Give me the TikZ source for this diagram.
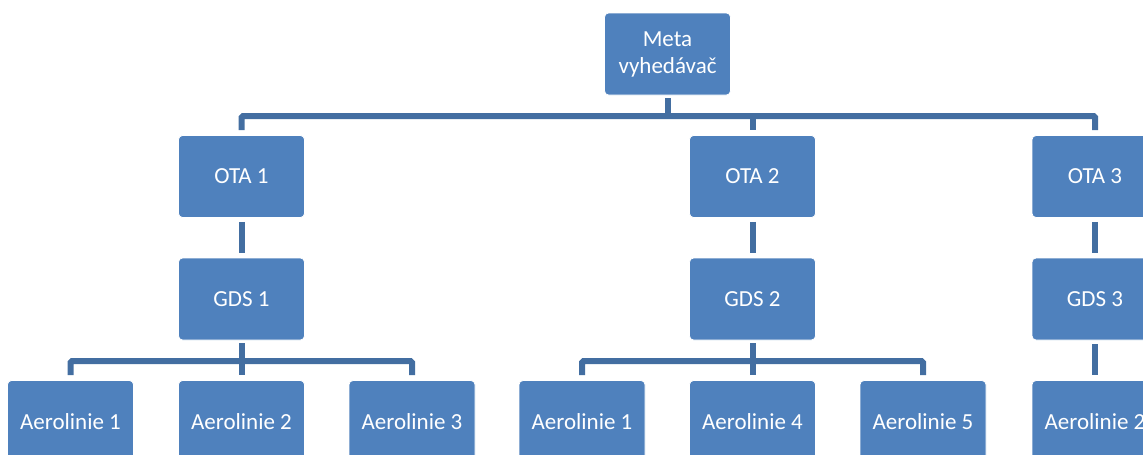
\documentclass[tikz,border=0pt]{standalone}
\usepackage{fontspec}
\setmainfont{Carlito}
\definecolor{boxblue}{HTML}{4F81BD}
\definecolor{lineblue}{HTML}{436EA1}
\begin{document}
\begin{tikzpicture}[x=1pt,y=-1pt,
  box/.style={draw=white, line width=0.8pt, fill=boxblue, rounded corners=4pt,
    minimum width=126pt, minimum height=82pt, inner sep=0pt, text=white,
    font=\fontsize{23}{27}\selectfont, align=center},
  conn/.style={draw=lineblue, line width=6pt, rounded corners=1.5pt}]
\useasboundingbox (0,0) rectangle (1143,455);
\node[box] (meta) at (667.5,54) {Meta\\vyhedávač};
\node[box] (ota1) at (241.5,176.5) {OTA 1};
\node[box] (ota2) at (752.5,176.5) {OTA 2};
\node[box] (ota3) at (1095,176.5) {OTA 3};
\node[box] (gds1) at (241.5,299) {GDS 1};
\node[box] (gds2) at (752.5,299) {GDS 2};
\node[box] (gds3) at (1095,299) {GDS 3};
\node[box] (a11) at (70.5,421.5) {Aerolinie 1};
\node[box] (a12) at (241.5,421.5) {Aerolinie 2};
\node[box] (a13) at (412,421.5) {Aerolinie 3};
\node[box] (a21) at (582,421.5) {Aerolinie 1};
\node[box] (a24) at (752.5,421.5) {Aerolinie 4};
\node[box] (a25) at (923,421.5) {Aerolinie 5};
\node[box] (a32) at (1095,421.5) {Aerolinie 2};
\coordinate (bus1) at (0,116);
\coordinate (bus2) at (0,361);
% top level
\draw[conn] ([yshift=-3pt]meta.south) -- (meta.south |- bus1);
\draw[conn] ([yshift=5pt]ota1.north) -- (ota1.north |- bus1) -- (ota3.north |- bus1) -- ([yshift=5pt]ota3.north);
\draw[conn] (ota2.north |- bus1) -- ([yshift=5pt]ota2.north);
% OTA to GDS
\draw[conn] ([yshift=-4pt]ota1.south) -- ([yshift=5pt]gds1.north);
\draw[conn] ([yshift=-4pt]ota2.south) -- ([yshift=5pt]gds2.north);
\draw[conn] ([yshift=-4pt]ota3.south) -- ([yshift=5pt]gds3.north);
% GDS to airlines
\draw[conn] ([yshift=-3pt]gds1.south) -- (gds1.south |- bus2);
\draw[conn] ([yshift=5pt]a11.north) -- (a11.north |- bus2) -- (a13.north |- bus2) -- ([yshift=5pt]a13.north);
\draw[conn] (a12.north |- bus2) -- ([yshift=5pt]a12.north);
\draw[conn] ([yshift=-3pt]gds2.south) -- (gds2.south |- bus2);
\draw[conn] ([yshift=5pt]a21.north) -- (a21.north |- bus2) -- (a25.north |- bus2) -- ([yshift=5pt]a25.north);
\draw[conn] (a24.north |- bus2) -- ([yshift=5pt]a24.north);
\draw[conn] ([yshift=-4pt]gds3.south) -- ([yshift=5pt]a32.north);
\end{tikzpicture}
\end{document}
